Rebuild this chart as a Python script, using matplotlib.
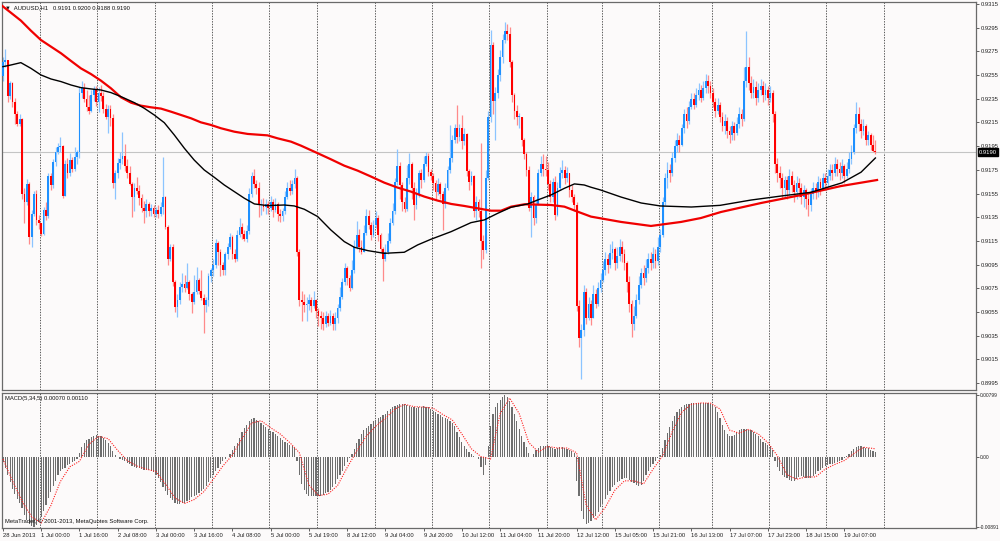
import numpy as np
import matplotlib
matplotlib.use("Agg")
import matplotlib.pyplot as plt
import matplotlib.transforms as mtransforms

plt.rcParams['font.family'] = ['Liberation Sans', 'DejaVu Sans']

# ---------------- datos (pips sobre 0.9000) ----------------
apertura0 = 254

cierre = [
    266, 268, 237, 248, 232, 222, 214, 218, 155, 148,
    163, 118, 138, 155, 133, 130, 121, 141, 136, 170,
    162, 182, 190, 194, 195, 153, 180, 172, 183, 176,
    186, 190, 240, 244, 235, 228, 225, 238, 243, 232,
    240, 237, 226, 220, 226, 219, 164, 172, 181, 184,
    187, 178, 172, 163, 152, 160, 157, 151, 143, 140,
    146, 140, 143, 138, 141, 138, 144, 152, 127, 100,
    110, 80, 59, 65, 76, 79, 75, 80, 70, 63,
    72, 82, 73, 67, 61, 65, 85, 90, 95, 113,
    106, 95, 90, 104, 110, 118, 104, 100, 120, 127,
    121, 117, 123, 155, 170, 163, 160, 145, 145, 144,
    146, 143, 148, 141, 146, 138, 136, 140, 152, 160,
    157, 163, 168, 106, 65, 63, 61, 62, 65, 60,
    65, 56, 52, 50, 45, 52, 46, 52, 45, 50,
    58, 68, 80, 92, 84, 75, 90, 110, 120, 110,
    106, 122, 136, 128, 120, 128, 134, 120, 108, 100,
    106, 115, 130, 140, 165, 178, 162, 148, 142, 168,
    180, 160, 145, 155, 172, 166, 180, 187, 173, 170,
    164, 156, 163, 155, 146, 160, 175, 185, 200, 210,
    203, 210, 199, 205, 174, 165, 170, 140, 148, 140,
    115, 107, 168, 220, 280, 233, 240, 255, 270, 285,
    292, 290, 266, 238, 225, 220, 220, 200, 188, 175,
    143, 152, 134, 146, 172, 180, 176, 175, 163, 152,
    165, 137, 160, 172, 175, 168, 172, 158, 152, 145,
    60, 33, 40, 72, 50, 62, 50, 70, 62, 75,
    82, 90, 100, 95, 105, 108, 96, 102, 110, 104,
    96, 80, 62, 45, 52, 65, 78, 88, 84, 92,
    100, 96, 104, 98, 110, 120, 148, 168, 175, 172,
    185, 195, 200, 196, 210, 222, 216, 228, 235, 230,
    238, 242, 236, 244, 250, 246, 240, 232, 225, 230,
    220, 212, 216, 208, 204, 212, 206, 214, 222, 218,
    250, 262, 248, 240, 245, 236, 242, 246, 238, 242,
    236, 240, 222, 180, 172, 168, 160, 166, 158, 170,
    162, 156, 164, 160, 152, 158, 150, 145, 155, 160,
    156, 165, 160, 168, 164, 170, 175, 172, 180, 176,
    172, 178, 170, 176, 184, 190, 210, 222, 214, 208,
    212, 200, 204, 196, 191, 190,
]

maximo = [
    270, 277, 268, 250, 249, 236, 225, 222, 219, 160,
    167, 165, 141, 157, 158, 137, 130, 144, 148, 172,
    172, 184, 194, 198, 203, 196, 183, 185, 189, 186,
    194, 192, 245, 250, 248, 242, 238, 242, 246, 246,
    245, 247, 241, 231, 230, 230, 222, 175, 185, 190,
    207, 197, 184, 178, 165, 164, 169, 162, 155, 149,
    150, 148, 146, 145, 144, 145, 148, 186, 153, 128,
    112, 112, 82, 70, 80, 88, 86, 96, 82, 72,
    86, 93, 84, 90, 70, 68, 88, 92, 100, 117,
    115, 108, 97, 106, 113, 122, 120, 108, 124, 134,
    130, 124, 128, 160, 173, 176, 166, 165, 150, 151,
    150, 149, 153, 150, 151, 148, 142, 143, 157, 165,
    166, 166, 176, 170, 108, 73, 70, 68, 70, 68,
    73, 66, 58, 56, 55, 56, 54, 57, 54, 55,
    62, 76, 84, 96, 94, 86, 99, 116, 132, 125,
    116, 128, 142, 141, 131, 133, 140, 137, 122, 110,
    112, 122, 134, 147, 168, 193, 182, 165, 152, 179,
    189, 182, 165, 160, 175, 176, 187, 190, 189, 176,
    172, 166, 168, 165, 157, 164, 178, 213, 204, 214,
    230, 214, 221, 210, 206, 176, 174, 171, 153, 150,
    198, 120, 175, 225, 293, 283, 245, 260, 276, 290,
    300, 298, 296, 268, 240, 230, 223, 216, 202, 190,
    178, 156, 154, 150, 176, 187, 188, 187, 182, 166,
    168, 170, 165, 177, 183, 178, 177, 172, 162, 155,
    148, 65, 45, 78, 75, 68, 65, 78, 74, 80,
    88, 98, 106, 104, 112, 115, 110, 110, 117, 115,
    108, 98, 85, 65, 60, 70, 85, 92, 95, 100,
    105, 106, 110, 108, 118, 125, 152, 172, 182, 180,
    190, 200, 206, 204, 214, 226, 228, 233, 240, 240,
    244, 248, 247, 250, 256, 255, 250, 244, 236, 236,
    232, 224, 222, 220, 212, 216, 215, 220, 228, 226,
    262, 292, 270, 254, 252, 250, 248, 252, 250, 248,
    246, 246, 242, 225, 185, 178, 172, 170, 170, 176,
    174, 166, 170, 168, 164, 162, 160, 156, 160, 165,
    164, 170, 168, 172, 172, 176, 180, 180, 186, 184,
    182, 184, 180, 182, 190, 196, 214, 232, 228, 218,
    218, 214, 208, 206, 204, 200,
]

minimo = [
    250, 262, 232, 235, 228, 214, 212, 212, 150, 130,
    145, 112, 110, 136, 128, 125, 119, 120, 133, 134,
    158, 160, 178, 188, 190, 151, 165, 168, 170, 173,
    174, 180, 185, 236, 232, 225, 222, 224, 233, 229,
    224, 233, 223, 218, 206, 212, 160, 150, 168, 176,
    180, 174, 168, 162, 135, 140, 155, 145, 139, 130,
    135, 136, 136, 135, 135, 134, 136, 138, 125, 95,
    98, 77, 55, 51, 62, 72, 72, 74, 65, 54,
    62, 70, 70, 65, 37, 55, 60, 80, 85, 92,
    95, 85, 86, 86, 100, 108, 100, 97, 98, 118,
    117, 115, 114, 121, 152, 160, 155, 135, 137, 140,
    138, 138, 140, 135, 139, 132, 131, 132, 138, 150,
    154, 155, 160, 102, 60, 47, 55, 47, 57, 55,
    58, 50, 43, 41, 40, 42, 43, 44, 40, 40,
    46, 56, 66, 78, 78, 73, 74, 88, 108, 106,
    104, 106, 120, 125, 116, 118, 126, 115, 105, 81,
    98, 104, 113, 128, 138, 162, 150, 140, 139, 140,
    163, 150, 133, 142, 152, 160, 165, 178, 170, 166,
    158, 150, 154, 150, 124, 143, 158, 172, 182, 198,
    198, 199, 193, 196, 170, 158, 162, 135, 133, 135,
    92, 100, 105, 166, 215, 222, 200, 236, 250, 265,
    282, 285, 262, 232, 218, 213, 210, 195, 184, 170,
    140, 118, 128, 130, 145, 170, 170, 170, 158, 148,
    148, 133, 136, 158, 168, 163, 165, 152, 148, 140,
    56, 25, -2, 35, 45, 48, 44, 60, 58, 60,
    72, 80, 86, 88, 92, 100, 90, 92, 98, 97,
    90, 72, 55, 34, 40, 50, 62, 75, 78, 80,
    88, 90, 92, 92, 95, 106, 118, 145, 160, 165,
    170, 182, 190, 190, 195, 206, 210, 214, 226, 226,
    228, 234, 232, 234, 240, 240, 236, 228, 220, 222,
    215, 208, 205, 202, 198, 200, 200, 204, 210, 212,
    216, 245, 242, 236, 236, 230, 232, 238, 232, 234,
    230, 232, 215, 172, 165, 160, 150, 152, 150, 154,
    156, 148, 150, 152, 146, 144, 142, 136, 140, 150,
    150, 152, 154, 158, 158, 160, 166, 166, 170, 170,
    166, 168, 164, 168, 172, 180, 188, 206, 208, 202,
    204, 196, 196, 192, 190, 188,
]

# medias moviles (vertices leidos: barra, pips)
ma_negra_x = [0, 3.3, 7.5, 11.7, 15.9, 20.1, 24.3, 28.5, 32.6, 36.8, 41, 45.2, 49.4,
              55, 59.1, 63.3, 67.5, 71.7, 75.9, 80, 84.2, 88.4, 92.6, 96.8, 101,
              105.2, 110.7, 117.7, 121.9, 126.1, 131.7, 137.2, 142.8, 147, 152.6,
              159.5, 167.9, 173.5, 179.1, 187.5, 195.8, 201.4, 207, 212.6, 219.6,
              223.8, 229.3, 234.9, 239.1, 243.2, 246, 250, 258.6, 267, 275, 288,
              300, 313, 326, 338, 351, 359, 365]
ma_negra_y = [262.1, 263.5, 265.5, 260.7, 255.1, 251.7, 249.5, 246.6, 244.4, 243.3,
              242.4, 240.2, 236.8, 231.7, 227, 221.3, 214.8, 204.4, 193.2, 183.3,
              174.9, 168.7, 162.2, 156.6, 151, 146.2, 144.8, 145.3, 144.5, 141.7,
              135.5, 124.2, 114.4, 109.6, 106.8, 104.5, 105.4, 111.6, 116.4, 122.8,
              130.4, 132.7, 138.3, 143.4, 146.2, 149.6, 153.8, 159.4, 163.1, 162.2,
              160.3, 158, 152, 147, 144.5, 143.6, 145, 149.5, 153, 156, 164, 173, 185]

ma_roja_x = [-0.8, 3.3, 7.5, 11.7, 15.9, 20.1, 24.3, 28.5, 32.6, 36.8, 41, 45.2, 49.4,
             53.6, 57.7, 61.9, 66.1, 70.3, 74.5, 78.7, 82.8, 87, 91.2, 96.8, 102.4,
             110.7, 114.9, 120.5, 124.7, 131.7, 137.2, 142.8, 148.4, 154, 159.5,
             165.1, 170.7, 176.3, 181.9, 187.5, 193, 198.6, 204.2, 208.4, 212.6,
             218.2, 223.8, 229.3, 234.9, 240.4, 246, 258.6, 271.1, 283.7, 292,
             300.4, 317.2, 333.9, 350.6, 365.7]
ma_roja_y = [314.2, 307.7, 301, 292.5, 284.6, 279, 273.4, 266.9, 260.7, 255.9, 250.3,
             243.8, 236.2, 231.7, 229.2, 227.8, 226.7, 224.1, 221.3, 218.5, 215.1,
             212.9, 210.1, 207.2, 205.3, 204.1, 201.6, 198.8, 195.4, 189, 183.9,
             178.5, 174.3, 169.3, 164.2, 160, 156.6, 152.4, 149, 146.2, 144.5, 142.5,
             140.5, 140.5, 143.9, 145.9, 145.6, 145.3, 143.9, 139.7, 135.5, 131,
             127.6, 131, 134.3, 139.4, 147, 153.7, 161.3, 166.4]

# MACD (unidades de 1e-5)
macd = [
    -60, -140, -230, -320, -400, -470, -530, -580, -650, -740,
    -800, -850, -880, -891, -870, -830, -760, -690, -610, -520,
    -440, -370, -300, -230, -170, -150, -130, -100, -80, -60,
    -40, -20, 60, 130, 180, 220, 240, 260, 275, 284,
    280, 270, 250, 220, 190, 150, 80, 30, 0, -20,
    -30, -50, -70, -90, -110, -120, -130, -140, -150, -155,
    -160, -165, -175, -190, -220, -260, -320, -380, -430, -480,
    -520, -550, -580, -600, -600, -590, -580, -560, -540, -510,
    -500, -480, -460, -430, -400, -360, -310, -260, -220, -180,
    -130, -90, -50, -20, 0, 40, 90, 140, 190, 250,
    320, 380, 420, 460, 490, 500, 480, 460, 440, 420,
    390, 360, 340, 320, 300, 280, 250, 220, 200, 180,
    160, 140, 120, -40, -230, -340, -420, -470, -490, -500,
    -500, -500, -495, -490, -480, -460, -440, -420, -380, -340,
    -280, -230, -170, -110, -60, -10, 40, 110, 180, 240,
    300, 350, 380, 400, 430, 460, 480, 500, 520, 540,
    560, 590, 620, 640, 660, 670, 680, 690, 680, 670,
    660, 650, 640, 630, 640, 650, 660, 650, 640, 620,
    600, 580, 560, 540, 520, 500, 490, 470, 440, 400,
    330, 260, 200, 150, 110, 70, 40, 20, 10, -20,
    -120, -230, -100, 150, 400, 560, 650, 700, 740, 770,
    799, 780, 720, 640, 560, 460, 370, 280, 200, 130,
    60, 10, 50, 90, 120, 140, 150, 150, 140, 130,
    120, 110, 120, 130, 130, 120, 110, 100, 80, 60,
    -300, -500, -680, -790, -850, -840, -810, -780, -750, -700,
    -640, -580, -530, -480, -430, -380, -350, -320, -300, -280,
    -270, -270, -290, -310, -330, -350, -360, -350, -300, -230,
    -170, -120, -80, -40, -10, 30, 120, 220, 310, 390,
    470, 530, 580, 620, 650, 670, 680, 690, 695, 697,
    697, 697, 695, 697, 697, 695, 690, 670, 640, 580,
    500, 420, 350, 300, 280, 270, 290, 320, 350, 360,
    360, 360, 355, 350, 330, 300, 270, 230, 200, 180,
    160, 150, 90, -40, -120, -180, -220, -250, -270, -290,
    -300, -300, -280, -250, -240, -250, -260, -270, -260, -240,
    -210, -180, -160, -130, -110, -100, -90, -80, -70, -60,
    -50, -30, -10, 20, 50, 80, 110, 130, 140, 140,
    135, 125, 115, 100, 85, 70,
]

senal_x = [0, 4, 8, 12, 16, 20, 24, 28, 32, 36, 40, 44, 48, 52, 56, 60, 64, 68, 72, 76,
           80, 84, 88, 92, 96, 100, 104, 108, 112, 116, 120, 124, 128, 132, 136, 140,
           144, 148, 152, 156, 160, 164, 168, 172, 176, 180, 184, 188, 192, 196, 200,
           204, 208, 212, 216, 220, 224, 228, 232, 236, 240, 244, 248, 252, 256, 260,
           264, 268, 272, 276, 280, 284, 288, 292, 296, 300, 304, 308, 312, 316, 320,
           324, 328, 332, 336, 340, 344, 348, 352, 356, 360, 364, 365]
senal_y = [-20, -300, -560, -760, -840, -620, -310, -120, -50, 170, 270, 240, 90, -40,
           -110, -150, -180, -340, -520, -590, -540, -440, -280, -110, 30, 240, 440, 470,
           380, 300, 190, 60, -350, -490, -470, -360, -130, 80, 270, 400, 500, 620, 680,
           650, 645, 630, 550, 480, 300, 110, 10, -20, 560, 760, 560, 190, 70, 140, 120,
           120, 60, -610, -800, -640, -420, -300, -300, -340, -150, 20, 330, 580, 680,
           697, 695, 620, 350, 310, 360, 300, 190, 20, -220, -280, -250, -250, -150,
           -90, -40, 50, 130, 115, 110]

etiquetas_tiempo = ["28 Jun 2013", "1 Jul 00:00", "1 Jul 16:00", "2 Jul 08:00",
                    "3 Jul 00:00", "3 Jul 16:00", "4 Jul 08:00", "5 Jul 00:00",
                    "5 Jul 19:00", "8 Jul 12:00", "9 Jul 04:00", "9 Jul 20:00",
                    "10 Jul 12:00", "11 Jul 04:00", "11 Jul 20:00", "12 Jul 12:00",
                    "15 Jul 05:00", "15 Jul 21:00", "16 Jul 13:00", "17 Jul 07:00",
                    "17 Jul 23:00", "18 Jul 15:00", "19 Jul 07:00"]
barras_etiqueta = [16 * k for k in range(len(etiquetas_tiempo))]

# inicio de cada dia (separadores de periodo)
separadores = [16, 40, 64, 88, 112, 132, 156, 180, 204, 228, 251, 275, 297, 321, 345, 369]

# ---------------- preparar arreglos ----------------
def precio(v):
    return 0.9 + np.asarray(v, dtype=float) / 10000.0

c = precio(cierre)
o = precio([apertura0] + cierre[:-1])
h = np.maximum(precio(maximo), np.maximum(o, c))
l = np.minimum(precio(minimo), np.minimum(o, c))
idx = np.arange(len(c))
sube = c >= o

fondo = "#fcfafa"
fs = 4.2      # texto general
fs_macd = 3.5  # escala del MACD (mas estrecha para que quepa)

fig = plt.figure(figsize=(10, 5.41), dpi=100, facecolor=fondo)
ax1 = fig.add_axes([1.5 / 1000, 1 - 390 / 541, 975 / 1000, 388 / 541], facecolor=fondo)
ax2 = fig.add_axes([1.5 / 1000, 1 - 528 / 541, 975 / 1000, 135 / 541], facecolor=fondo)

# separadores de dia
for ax in (ax1, ax2):
    for b in separadores:
        ax.axvline(b - 0.5, color="#3c3c3c", lw=0.6, ls=(0, (1.6, 1.6)), zorder=1)

# linea del precio actual
ax1.axhline(0.9190, color="#c4c4c4", lw=0.8, zorder=1)

# velas
ax1.vlines(idx, l, h, colors=np.where(sube, "#8cc4ff", "#ff8a8a"), lw=0.9, zorder=2)
cuerpo = np.maximum(np.abs(c - o), 0.00003)
ax1.bar(idx, cuerpo, bottom=np.minimum(o, c), width=0.75,
        color=np.where(sube, "#1e90ff", "#ff0000"), linewidth=0, zorder=3)

# medias moviles
ax1.plot(ma_roja_x, precio(ma_roja_y), color="#f00000", lw=1.6, zorder=4,
         solid_joinstyle="round")
ax1.plot(ma_negra_x, precio(ma_negra_y), color="black", lw=1.0, zorder=5,
         solid_joinstyle="round")

ax1.set_xlim(-0.6, 407.3)
ax1.set_ylim(0.89891, 0.93167)
yt = [0.8995 + 0.002 * k for k in range(17)]
ax1.set_yticks(yt)
ax1.set_yticklabels(["%.4f" % v for v in yt])
ax1.yaxis.tick_right()
ax1.set_xticks([])
ax1.tick_params(axis="y", labelsize=fs, length=2, width=0.5, pad=1.2, colors="#222222")

trans = mtransforms.blended_transform_factory(ax1.transAxes, ax1.transData)
ax1.text(1.0025, 0.9190, "0.9190", transform=trans, ha="left", va="center",
         fontsize=fs, color="white", zorder=10,
         bbox=dict(boxstyle="square,pad=0.2", fc="black", ec="black"))
ax1.text(0.004, 0.992, "\u25bc  AUDUSD,H1   0.9191 0.9200 0.9188 0.9190",
         transform=ax1.transAxes, ha="left", va="top", fontsize=fs, color="#111111")

# MACD
ax2.bar(idx, macd, width=0.5, color="#6e6e6e", linewidth=0, zorder=2)
ax2.plot(senal_x, senal_y, color="#ff2020", lw=0.8, ls=(0, (1, 1.2)), zorder=3)
ax2.set_xlim(-0.6, 407.3)
ax2.set_ylim(-904, 825)
ax2.set_yticks([799, 0, -891])
ax2.set_yticklabels(["0.00799", "0.00", "-0.00891"])
ax2.yaxis.tick_right()
ax2.tick_params(axis="y", labelsize=fs_macd, length=2, width=0.5, pad=0.6,
                colors="#222222")
ax2.set_xticks(barras_etiqueta)
ax2.set_xticklabels(etiquetas_tiempo, ha="left")
ax2.tick_params(axis="x", labelsize=fs, length=2, width=0.5, pad=1.5, colors="#222222")
ax2.text(0.004, 0.975, "MACD(5,34,5) 0.00070 0.00110", transform=ax2.transAxes,
         ha="left", va="top", fontsize=fs, color="#111111")
ax2.text(0.004, 0.03, "MetaTrader, \u00a9 2001-2013, MetaQuotes Software Corp.",
         transform=ax2.transAxes, ha="left", va="bottom", fontsize=fs, color="#111111")

for ax in (ax1, ax2):
    for s in ax.spines.values():
        s.set_color("#6a6a6a")
        s.set_linewidth(0.9)

fig.savefig("out.png", dpi=100, facecolor=fondo)
